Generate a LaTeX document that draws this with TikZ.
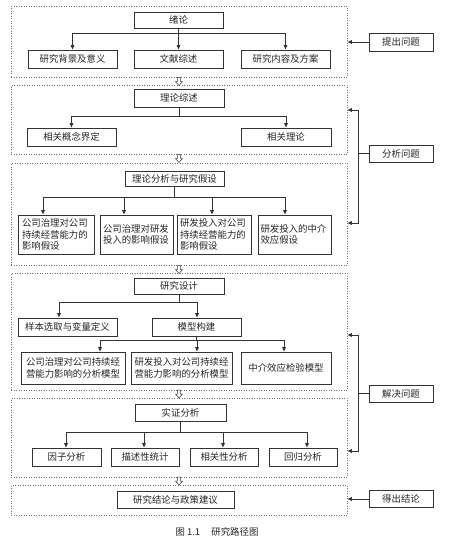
\documentclass[tikz,border=0pt]{standalone}
\usepackage{fontspec}
\setmainfont{Noto Sans CJK SC}
\usetikzlibrary{arrows.meta}
\XeTeXlinebreaklocale "zh"
\begin{document}
\begin{tikzpicture}[x=1pt,y=-1pt,
  box/.style={draw=black!80, line width=0.6pt, minimum height=18, inner sep=1pt,
    font=\fontsize{9.4}{11.5}\selectfont, text=black!85},
  grp/.style={draw=black!55, dotted, line width=0.5pt, minimum width=336, inner sep=0pt},
  ln/.style={draw=black!80, line width=0.6pt},
  arr/.style={ln, -{Latex[length=4.5pt,width=4pt]}},
  hollow/.pic={\draw[black!80, line width=0.5pt, fill=white] (-1.6,0) -- (1.6,0) -- (1.6,4) -- (3.6,4) -- (0,8) -- (-3.6,4) -- (-1.6,4) -- cycle;}
]
\useasboundingbox (0,0) rectangle (454,544);
\fill[white] (0,0) rectangle (454,544);

% group boxes
\node[grp, minimum height=71] (G1) at (179,41.5) {};
\node[grp, minimum height=69] (G2) at (179,119.5) {};
\node[grp, minimum height=102] (G3) at (179,214) {};
\node[grp, minimum height=117] (G4) at (179,331.5) {};
\node[grp, minimum height=79] (G5) at (179,437.5) {};
\node[grp, minimum height=30] (G6) at (179,500) {};

% hollow arrows between groups
\pic at (179,77.5) {hollow};
\pic at (179,154.5) {hollow};
\pic at (179,265.5) {hollow};
\pic at (179,390) {hollow};
\pic at (179,477) {hollow};

% ---------- group 1
\node[box, minimum width=89, minimum height=16] (t1) at (178.5,20) {绪论};
\node[box, minimum width=89] (c11) at (72.5,59) {研究背景及意义};
\node[box, minimum width=89] (c12) at (178.5,59) {文献综述};
\node[box, minimum width=89] (c13) at (285.5,59) {研究内容及方案};
\coordinate (y1) at (0,33);
\draw[ln] (t1.south) -- (t1.south |- y1);
\draw[ln] (c11.north |- y1) -- (c13.north |- y1);
\foreach \c in {c11,c12,c13} \draw[arr] (\c.north |- y1) -- (\c.north);

% ---------- group 2
\node[box, minimum width=90] (t2) at (179,98) {理论综述};
\node[box, minimum width=89] (c21) at (71.5,137) {相关概念界定};
\node[box, minimum width=90] (c22) at (286,137) {相关理论};
\coordinate (y2) at (0,116);
\draw[ln] (t2.south) -- (t2.south |- y2);
\draw[ln] (c21.north |- y2) -- (c22.north |- y2);
\foreach \c in {c21,c22} \draw[arr] (\c.north |- y2) -- (\c.north);

% ---------- group 3
\node[box, minimum width=99, minimum height=15] (t3) at (174.5,179) {理论分析与研究假设};
\node[box, minimum width=76, minimum height=39, text width=68, align=left] (c31) at (56,234.5) {公司治理对公司\\持续经营能力的\\影响假设};
\node[box, minimum width=73, minimum height=39, text width=67, align=left] (c32) at (136.5,234.5) {公司治理对研发\\投入的影响假设};
\node[box, minimum width=74, minimum height=39, text width=68, align=left] (c33) at (214,234.5) {研发投入对公司\\持续经营能力的\\影响假设};
\node[box, minimum width=73, minimum height=39, text width=68, align=left] (c34) at (294.5,234.5) {研发投入的中介\\效应假设};
\coordinate (a31) at (43,197);
\coordinate (a32) at (124,197);
\coordinate (a33) at (212,197);
\coordinate (a34) at (285,197);
\draw[ln] (t3.south) -- (t3.south |- a31);
\draw[ln] (a31) -- (a34);
\draw[arr] (a31) -- (a31 |- c31.north);
\draw[arr] (a32) -- (a32 |- c32.north);
\draw[arr] (a33) -- (a33 |- c33.north);
\draw[arr] (a34) -- (a34 |- c34.north);

% ---------- group 4
\node[box, minimum width=90, minimum height=16] (t4) at (179,286) {研究设计};
\node[box, minimum width=99] (c41) at (67.5,327) {样本选取与变量定义};
\node[box, minimum width=89] (c42) at (196.5,327) {模型构建};
\coordinate (a41) at (59,302);
\coordinate (a42) at (197,302);
\draw[ln] (t4.south) -- (t4.south |- a41);
\draw[ln] (a41) -- (a42);
\draw[arr] (a41) -- (a41 |- c41.north);
\draw[arr] (a42) -- (a42 |- c42.north);
\node[box, minimum width=104, minimum height=32, align=center] (c43) at (73,368) {公司治理对公司持续经\\营能力影响的分析模型};
\node[box, minimum width=101, minimum height=32, align=center] (c44) at (181.5,368) {研发投入对公司持续经\\营能力影响的分析模型};
\node[box, minimum width=90, minimum height=32] (c45) at (286,368) {中介效应检验模型};
\coordinate (a43) at (100,340);
\coordinate (a44) at (197,340);
\coordinate (a45) at (284,340);
\draw[ln] (c42.south) -- (c42.south |- a43);
\draw[ln] (a43) -- (a45);
\draw[arr] (a43) -- (a43 |- c43.north);
\draw[arr] (a44) -- (a44 |- c44.north);
\draw[arr] (a45) -- (a45 |- c45.north);

% ---------- group 5
\node[box, minimum width=91, minimum height=17] (t5) at (180.5,412.5) {实证分析};
\node[box, minimum width=69] (c51) at (66.5,457) {因子分析};
\node[box, minimum width=68] (c52) at (145,457) {描述性统计};
\node[box, minimum width=68] (c53) at (224,457) {相关性分析};
\node[box, minimum width=68] (c54) at (303,457) {回归分析};
\coordinate (a51) at (66,432);
\coordinate (a52) at (144,432);
\coordinate (a53) at (223,432);
\coordinate (a54) at (307,432);
\draw[ln] (t5.south) -- (t5.south |- a51);
\draw[ln] (a51) -- (a54);
\draw[arr] (a51) -- (a51 |- c51.north);
\draw[arr] (a52) -- (a52 |- c52.north);
\draw[arr] (a53) -- (a53 |- c53.north);
\draw[arr] (a54) -- (a54 |- c54.north);

% ---------- group 6
\node[box, minimum width=117, minimum height=17] (t6) at (175.5,499.5) {研究结论与政策建议};

% ---------- right side
\node[box, minimum width=64] (r1) at (401,42) {提出问题};
\node[box, minimum width=64, minimum height=17] (r2) at (401,153.5) {分析问题};
\node[box, minimum width=64, minimum height=17] (r3) at (401,393.5) {解决问题};
\node[box, minimum width=64, minimum height=17] (r4) at (401,499) {得出结论};

\draw[arr] (r1.west) -- (r1.west -| G1.east);

\coordinate (b21) at (358,110);
\coordinate (b22) at (358,223);
\draw[arr] (r2.west) -| (b21) -- (b21 -| G2.east);
\draw[arr] (r2.west) -| (b22) -- (b22 -| G3.east);

\coordinate (b31) at (358,335);
\coordinate (b32) at (358,451);
\draw[arr] (r3.west) -| (b31) -- (b31 -| G4.east);
\draw[arr] (r3.west) -| (b32) -- (b32 -| G5.east);

\draw[arr] (r4.west) -- (r4.west -| G6.east);

% caption
\node[font=\fontsize{9.4}{11}\selectfont, text=black!85] (cap) at (217,532) {图 1.1\hspace{1.2em}研究路径图};
\end{tikzpicture}
\end{document}
